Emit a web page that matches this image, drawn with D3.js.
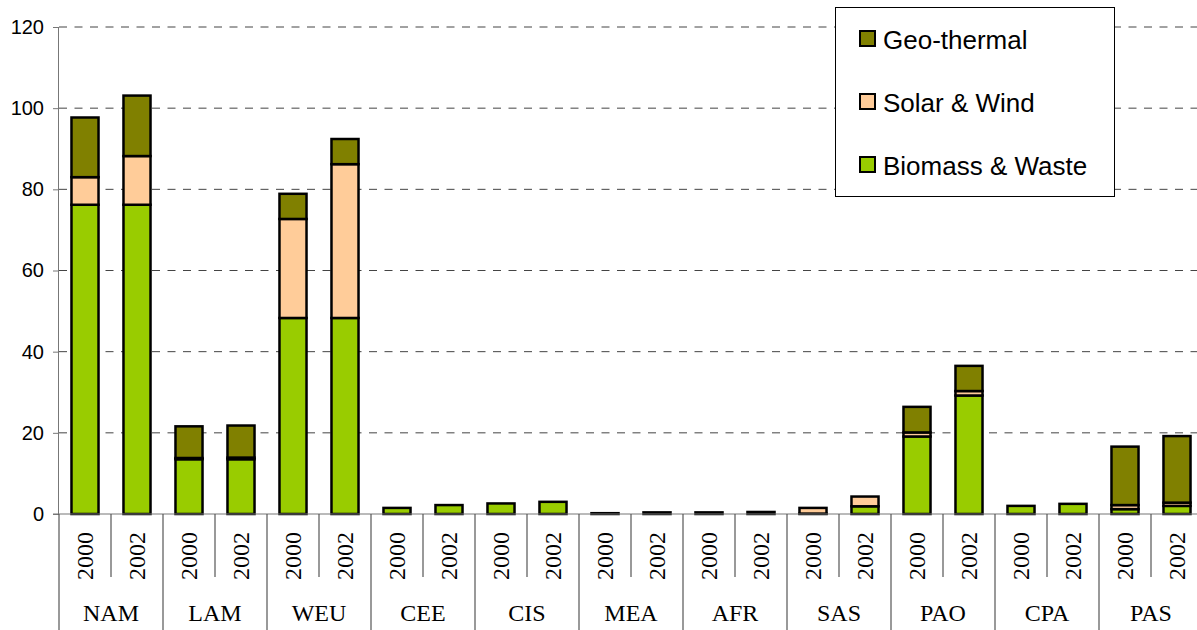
<!DOCTYPE html>
<html>
<head>
<meta charset="utf-8">
<script src="https://cdn.jsdelivr.net/npm/d3@7"></script>
<style>
  html, body { margin: 0; padding: 0; background: #fff; }
  svg { display: block; }
</style>
</head>
<body>
<svg id="chart" width="1197" height="630"></svg>
<script>
// ---- data ----
const regions = ["NAM","LAM","WEU","CEE","CIS","MEA","AFR","SAS","PAO","CPA","PAS"];
const years = ["2000","2002"];
const seriesNames = ["Biomass & Waste","Solar & Wind","Geo-thermal"];
// values in order region x year
const biomass = [76.2,76.2, 13.5,13.5, 48.3,48.3, 1.5,2.2, 2.6,3.0, 0.2,0.4, 0.4,0.5, 0.1,1.9, 19.1,29.2, 2.0,2.5, 1.2,2.0];
const solarWind = [6.8,12.0, 0.3,0.4, 24.4,37.9, 0,0, 0,0, 0,0, 0,0, 1.4,2.4, 1.0,1.1, 0,0, 1.0,0.8];
const geothermal = [14.7,14.9, 7.8,7.9, 6.2,6.2, 0,0, 0,0, 0,0, 0,0, 0,0, 6.3,6.2, 0,0, 14.4,16.4];
const yTicks = [0,20,40,60,80,100,120];
const colors = ["#99CC00","#FFCC99","#808000"];

// ---- layout ----
const svg = d3.select("#chart");
const plotLeft = 59, plotRight = 1203, plotTop = 27, plotBase = 514;

const x0 = d3.scaleBand().domain(regions).range([plotLeft, plotRight]).padding(0);
const x1 = d3.scaleBand().domain(years).range([0, x0.bandwidth()]).paddingInner(0.48).paddingOuter(0.24);
const y = d3.scaleLinear().domain([0,120]).range([plotBase, plotTop]);

// gridlines
svg.append("g").selectAll("line").data(yTicks.filter(d => d > 0)).join("line")
  .attr("x1", plotLeft).attr("x2", 1197)
  .attr("y1", d => y(d)).attr("y2", d => y(d))
  .attr("stroke", "#444").attr("stroke-width", 1)
  .attr("stroke-dasharray", "8,7.5");

// y axis
const yAxis = d3.axisLeft(y).tickValues(yTicks).tickSize(6).tickPadding(9);
const gy = svg.append("g").attr("transform", `translate(${plotLeft},0)`).call(yAxis);
gy.select(".domain").attr("stroke", "#777").attr("d", `M-0.5,${plotBase}V${plotTop}`);
gy.selectAll(".tick line").attr("stroke", "#777");
gy.selectAll(".tick text").attr("font-family", "Liberation Sans, Arial, sans-serif")
  .attr("font-size", 20).attr("fill", "#000");

// data rows
const rows = [];
regions.forEach((r, gi) => years.forEach((yr, yi) => {
  const i = gi * 2 + yi;
  const vals = [biomass[i], solarWind[i], geothermal[i]];
  let acc = 0;
  vals.forEach((v, si) => {
    if (v > 0) rows.push({region: r, year: yr, s: si, y0: acc, y1: acc + v});
    acc += v;
  });
}));

// bars
svg.append("g").selectAll("rect").data(rows).join("rect")
  .attr("x", d => x0(d.region) + x1(d.year))
  .attr("width", x1.bandwidth())
  .attr("y", d => y(d.y1))
  .attr("height", d => Math.max(0.01, y(d.y0) - y(d.y1)))
  .attr("fill", d => colors[d.s])
  .attr("stroke", "#000").attr("stroke-width", 2.5);

// x baseline
svg.append("line").attr("x1", plotLeft - 6).attr("x2", 1197).attr("y1", plotBase).attr("y2", plotBase)
  .attr("stroke", "#777").attr("stroke-width", 1.2);

// separators
const gx = svg.append("g");
regions.forEach((r, gi) => {
  gx.append("line").attr("x1", x0(r)).attr("x2", x0(r)).attr("y1", plotBase).attr("y2", 630)
    .attr("stroke", "#555").attr("stroke-width", 1.2);
  const mid = x0(r) + x0.bandwidth() / 2;
  gx.append("line").attr("x1", mid).attr("x2", mid).attr("y1", plotBase).attr("y2", 577)
    .attr("stroke", "#555").attr("stroke-width", 1.2);
});
gx.append("line").attr("x1", plotRight).attr("x2", plotRight).attr("y1", plotBase).attr("y2", 630)
  .attr("stroke", "#555").attr("stroke-width", 1.2);

// year labels
regions.forEach(r => years.forEach(yr => {
  const cx = x0(r) + x1(yr) + x1.bandwidth() / 2;
  gx.append("text")
    .attr("transform", `translate(${cx + 8},556) rotate(-90)`)
    .attr("text-anchor", "middle")
    .attr("font-family", "Liberation Serif, Times New Roman, serif")
    .attr("font-size", 24).attr("fill", "#000")
    .text(yr);
}));

// region labels
gx.selectAll("text.region").data(regions).join("text").attr("class", "region")
  .attr("x", d => x0(d) + x0.bandwidth() / 2).attr("y", 621)
  .attr("text-anchor", "middle")
  .attr("font-family", "Liberation Serif, Times New Roman, serif")
  .attr("font-size", 24).attr("fill", "#000")
  .text(d => d);

// legend
const lg = svg.append("g");
lg.append("rect").attr("x", 835.5).attr("y", 7.5).attr("width", 279).attr("height", 189)
  .attr("fill", "#fff").attr("stroke", "#000").attr("stroke-width", 1);
const legendItems = [2, 1, 0];
legendItems.forEach((si, k) => {
  const yy = 31 + k * 63;
  lg.append("rect").attr("x", 860).attr("y", yy).attr("width", 15).attr("height", 15)
    .attr("fill", colors[si]).attr("stroke", "#000").attr("stroke-width", 2);
  lg.append("text").attr("x", 883).attr("y", yy + 18)
    .attr("font-family", "Liberation Sans, Arial, sans-serif")
    .attr("font-size", 26).attr("fill", "#000")
    .text(seriesNames[si]);
});
</script>
</body>
</html>
